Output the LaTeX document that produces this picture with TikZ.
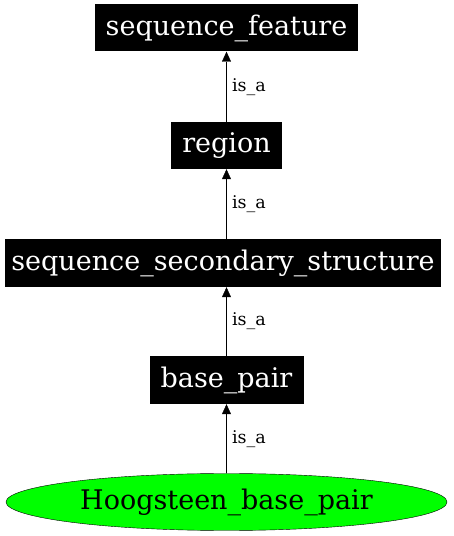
\documentclass[tikz,border=0pt]{standalone}
\usepackage{fontspec}
\setmainfont{DejaVu Serif}
\usetikzlibrary{arrows.meta,shapes.geometric}
\tikzset{term/.style={rectangle, fill=black, text=white, inner sep=0pt, font=\fontsize{27}{30}\selectfont}}
\tikzset{leaf/.style={ellipse, draw, fill=green, inner sep=0pt, font=\fontsize{27}{30}\selectfont}}
\tikzset{isa/.style={-{Triangle[length=10pt,width=9pt]}, thin}}
\tikzset{rel/.style={right, font=\fontsize{17.5}{20}\selectfont, xshift=2pt}}

\begin{document}
\begin{tikzpicture}[x=1pt,y=1pt]
    \useasboundingbox (0,0) rectangle (453,536);

    \node[term, minimum width=263, minimum height=47] (feat) at (226.5,508) {sequence\_feature};
    \node[term, minimum width=111, minimum height=47] (reg) at (226.5,390.5) {region};
    \node[term, minimum width=436, minimum height=48] (sss) at (223,273) {sequence\_secondary\_structure};
    \node[term, minimum width=154, minimum height=48] (bp) at (226.5,156) {base\_pair};
    \node[leaf, minimum width=441, minimum height=57] (hbp) at (226.5,34) {Hoogsteen\_base\_pair};

    \draw[isa] (hbp.north) -- node[rel]{is\_a} (bp.south);
    \draw[isa] (bp.north) -- node[rel]{is\_a} (sss.south -| bp.north);
    \draw[isa] (sss.north -| reg.south) -- node[rel]{is\_a} (reg.south);
    \draw[isa] (reg.north) -- node[rel]{is\_a} (feat.south);

\end{tikzpicture}
\end{document}
